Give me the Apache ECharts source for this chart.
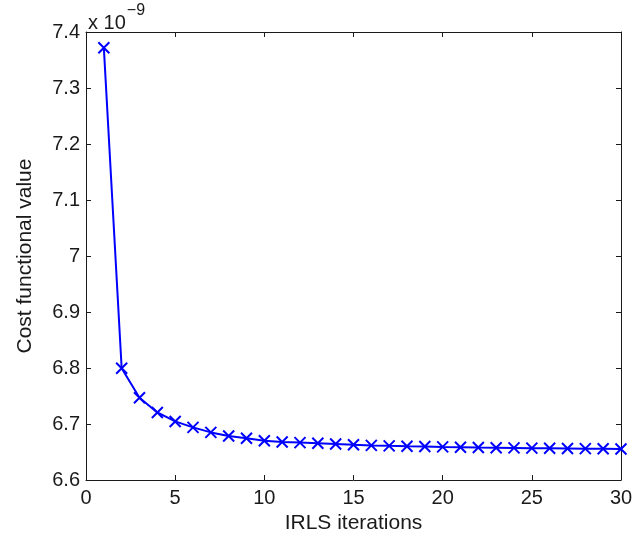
<!DOCTYPE html>
<html>
<head>
<meta charset="utf-8">
<script src="https://cdn.jsdelivr.net/npm/echarts@6/dist/echarts.min.js"></script>
<style>
html,body{margin:0;padding:0;background:#fff;}
#chart{width:643px;height:539px;}
</style>
</head>
<body>
<div id="chart"></div>
<script>
// Data (cost values in units of 1e-9)
var iterations = [1,2,3,4,5,6,7,8,9,10,11,12,13,14,15,16,17,18,19,20,21,22,23,24,25,26,27,28,29,30];
var costValues = [7.372,6.7995,6.747,6.7206,6.7046,6.694,6.685,6.6785,6.6745,6.670,6.668,6.6668,6.6656,6.6644,6.6630,6.6618,6.6610,6.6603,6.6597,6.6591,6.6586,6.6581,6.6577,6.6573,6.6569,6.6566,6.6563,6.6560,6.6558,6.6555];
var xTicks = {min:0, max:30, interval:5};
var yTicks = {min:6.6, max:7.4, interval:0.1};
var xTitle = 'IRLS iterations';
var yTitle = 'Cost functional value';
var exponentText = '-9';

var FONT = '"Liberation Sans", Arial, Helvetica, sans-serif';
var INK = '#1a1a1a';
var chart = echarts.init(document.getElementById('chart'), null, {renderer:'canvas'});

var points = iterations.map(function(x,i){ return [x, costValues[i]]; });

var axisLineStyle = {show:true, onZero:false, lineStyle:{color:INK, width:1}};
var tickStyle = {show:true, inside:true, length:5, lineStyle:{color:INK}};
function fmtY(v){ return String(+v.toFixed(1)); }

chart.setOption({
  animation:false,
  backgroundColor:'#fff',
  grid:{left:86, right:22, top:32, bottom:56, containLabel:false},
  xAxis:[{
    type:'value', min:xTicks.min, max:xTicks.max, interval:xTicks.interval,
    position:'bottom',
    name:xTitle, nameLocation:'middle', nameGap:33,
    nameTextStyle:{fontFamily:FONT, fontSize:21, color:INK},
    axisLine:axisLineStyle,
    axisTick:tickStyle,
    axisLabel:{fontFamily:FONT, fontSize:20, color:INK, margin:8},
    splitLine:{show:false}
  },{
    type:'value', min:xTicks.min, max:xTicks.max, interval:xTicks.interval,
    position:'top',
    axisLine:axisLineStyle,
    axisTick:tickStyle,
    axisLabel:{show:false},
    splitLine:{show:false}
  }],
  yAxis:[{
    type:'value', min:yTicks.min, max:yTicks.max, interval:yTicks.interval,
    position:'left',
    name:yTitle, nameLocation:'middle', nameGap:50,
    nameTextStyle:{fontFamily:FONT, fontSize:21, color:INK},
    axisLine:axisLineStyle,
    axisTick:tickStyle,
    axisLabel:{fontFamily:FONT, fontSize:20, color:INK, margin:6, formatter:fmtY},
    splitLine:{show:false}
  },{
    type:'value', min:yTicks.min, max:yTicks.max, interval:yTicks.interval,
    position:'right',
    axisLine:axisLineStyle,
    axisTick:tickStyle,
    axisLabel:{show:false},
    splitLine:{show:false}
  }],
  graphic:[{
    type:'text', left:88, top:3,
    style:{
      text:'{b|x 10}{s|' + exponentText.replace('-', '\u2212') + '}',
      rich:{
        b:{fontFamily:FONT, fontSize:20, fill:INK, color:INK, padding:[10,0,0,0]},
        s:{fontFamily:FONT, fontSize:16, fill:INK, color:INK, verticalAlign:'top', padding:[0,0,0,1]}
      }
    }
  }],
  series:[{
    type:'line',
    xAxisIndex:0, yAxisIndex:0,
    data:points,
    lineStyle:{color:'#0000ff', width:2},
    symbol:'path://M0,0L10,10M10,0L0,10',
    symbolSize:11,
    showAllSymbol:true,
    itemStyle:{color:'#0000ff', borderColor:'#0000ff', borderWidth:2},
    emphasis:{disabled:true}
  }]
});
</script>
</body>
</html>
